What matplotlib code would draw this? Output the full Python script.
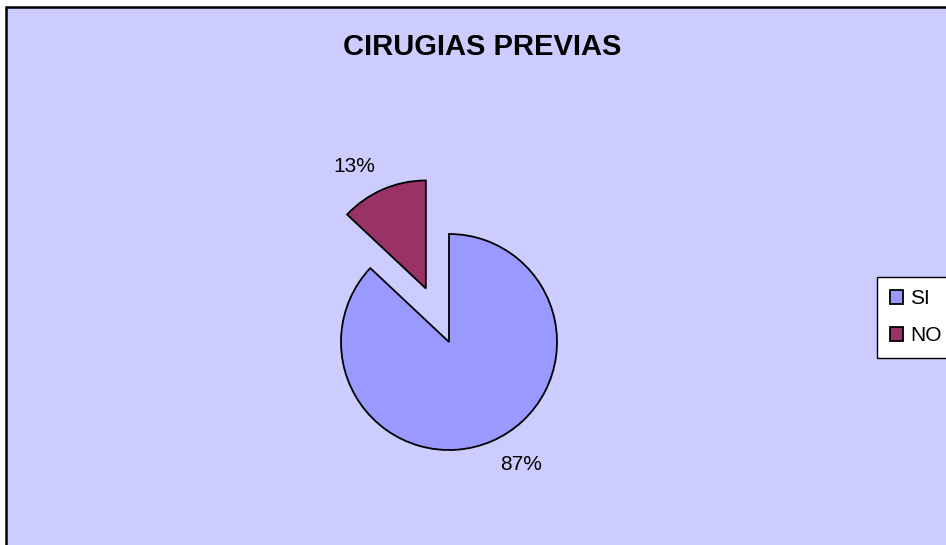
import matplotlib
matplotlib.use("Agg")
from matplotlib import pyplot as plt
from matplotlib.patches import Rectangle
import numpy as np

plt.rcParams['font.family'] = ['Liberation Sans', 'DejaVu Sans']

labels = ['SI', 'NO']
values = [87, 13]
colors = ['#9999FF', '#993366']
explode = [0.0, 0.54]   # fraccion del radio

W, H = 946, 545
R = 108
fig = plt.figure(figsize=(W / 100, H / 100), dpi=100)
fig.patch.set_facecolor('white')

ax = fig.add_axes([0, 0, 1, 1])
ax.set_xlim(0, W)
ax.set_ylim(0, H)
ax.set_aspect('equal')
ax.axis('off')

# marco del grafico
ax.add_patch(Rectangle((6, -10), W, H - 7 + 10, facecolor='#CCCCFF',
                       edgecolor='black', linewidth=1.8, zorder=0))

wedges, texts, autotexts = ax.pie(values, colors=colors,
                                  explode=[e * R for e in explode],
                                  startangle=90, counterclock=False,
                                  center=(449, H - 342), radius=R,
                                  autopct='%1.0f%%', pctdistance=1.3,
                                  wedgeprops=dict(edgecolor='black', linewidth=1.3),
                                  textprops=dict(fontsize=15, color='black'))
ax.set_xlim(0, W)
ax.set_ylim(0, H)

# las etiquetas quedan un poco giradas respecto al centro de cada sector
for w, t in zip(wedges, autotexts):
    ang = np.deg2rad((w.theta1 + w.theta2) / 2 + 7)
    cx, cy = w.center
    t.set_position((cx + 1.31 * R * np.cos(ang), cy + 1.31 * R * np.sin(ang)))

ax.text(482, H - 47, 'CIRUGIAS PREVIAS', ha='center', va='center',
        fontsize=21, fontweight='bold')

leg = ax.legend(wedges, labels, loc='upper left', bbox_to_anchor=(877 / W, 1 - 277 / H),
                frameon=True, fontsize=15, handlelength=0.65, handleheight=0.65,
                handletextpad=0.35, labelspacing=0.85, borderpad=0.6,
                borderaxespad=0, fancybox=False, framealpha=1)
leg.get_frame().set_edgecolor('black')
leg.get_frame().set_facecolor('white')
leg.get_frame().set_linewidth(1.0)

fig.savefig('out.png', dpi=100)
